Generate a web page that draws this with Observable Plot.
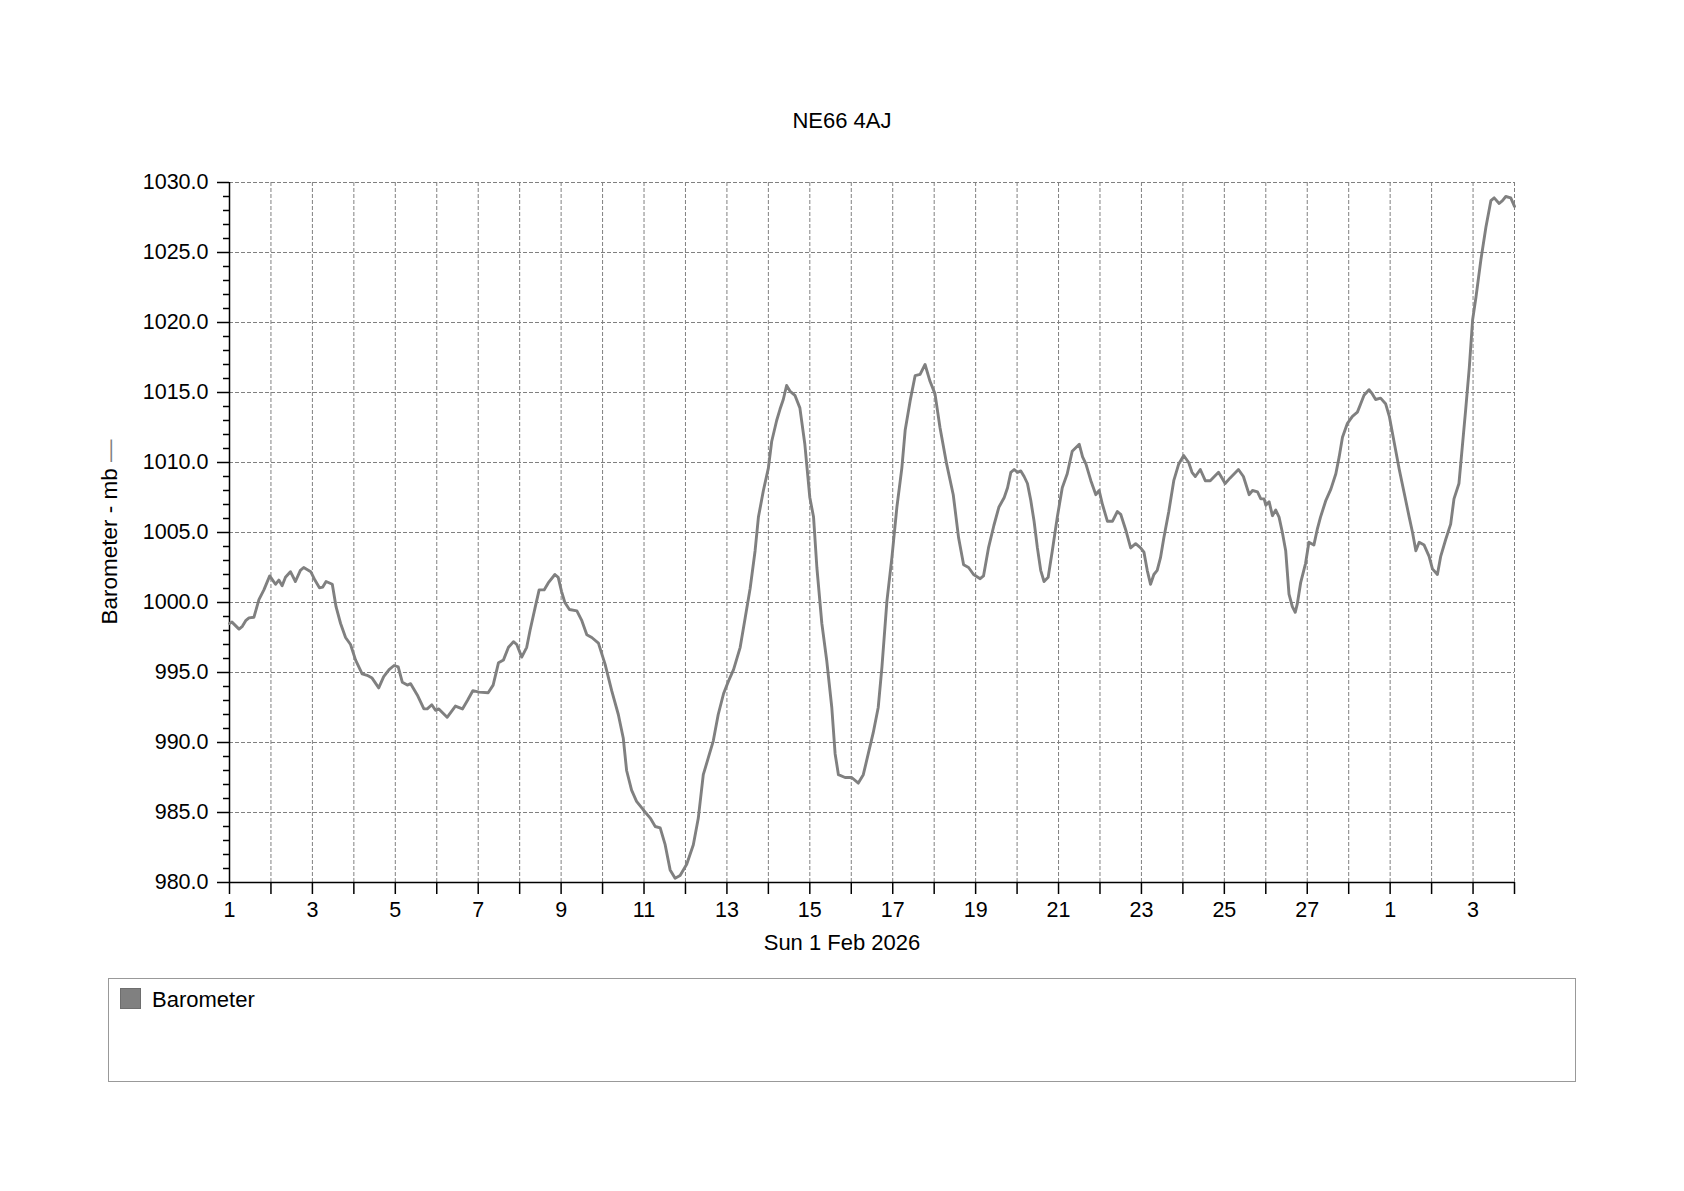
<!DOCTYPE html>
<html>
<head>
<meta charset="utf-8">
<script src="https://cdn.jsdelivr.net/npm/d3@7"></script>
<script src="https://cdn.jsdelivr.net/npm/@observablehq/plot@0.6"></script>
<style>
  html, body { margin: 0; padding: 0; background: #fff; }
  body { width: 1684px; height: 1191px; position: relative; overflow: hidden;
         font-family: "Liberation Sans", Arial, sans-serif; color: #000; }
  #title { position: absolute; left: 0; width: 1684px; top: 108px; line-height: 26px;
           text-align: center; font-size: 22px; }
  #xlabel { position: absolute; left: 0; width: 1684px; top: 930px; line-height: 26px;
            text-align: center; font-size: 22px; }
  #ylabel { position: absolute; left: 110px; top: 532px; font-size: 22.5px; white-space: nowrap;
            transform: translate(-50%, -50%) rotate(-90deg); }
  #ylabel .sym { color: #808080; }
  #chart { position: absolute; left: 0; top: 150px; }
  #legend { position: absolute; left: 108px; top: 978px; width: 1466px; height: 102px;
            border: 1px solid #999; box-sizing: content-box; }
  #legend .sw { position: absolute; left: 11px; top: 9px; width: 19px; height: 19px;
                background: #808080; border: 1px solid #6e6e6e; }
  #legend .lt { position: absolute; left: 43px; top: 8px; font-size: 22px; line-height: 26px; }
</style>
</head>
<body>
<div id="title">NE66 4AJ</div>
<div id="chart"></div>
<div id="xlabel">Sun 1 Feb 2026</div>
<div id="ylabel">Barometer - mb <span class="sym">—</span></div>
<div id="legend"><div class="sw"></div><div class="lt">Barometer</div></div>
<script>
// ---- Data (days since Sun 1 Feb 2026 00:00, pressure in mb) ----
const seriesName = "Barometer";
const startDate = "2026-02-01";
const endDate = "2026-03-04";
const yTicks = [980, 985, 990, 995, 1000, 1005, 1010, 1015, 1020, 1025, 1030];

const dayOffset = [
  0, 0.06, 0.23, 0.31, 0.39, 0.47, 0.59, 0.71, 0.83, 0.97, 1.11, 1.19, 1.27, 1.35, 1.47, 1.59, 1.71, 1.79, 1.96,
  2.06, 2.17, 2.25, 2.33, 2.48, 2.57, 2.68, 2.80, 2.92, 3.04, 3.20, 3.32, 3.44, 3.60, 3.72, 3.85, 3.97,
  4.07, 4.17, 4.29, 4.37, 4.53, 4.69, 4.77, 4.88, 4.97, 5.05, 5.25, 5.45, 5.62, 5.74, 5.87, 6.02,
  6.24, 6.36, 6.49, 6.61, 6.73, 6.85, 6.93, 7.05, 7.17, 7.25, 7.37, 7.47, 7.59, 7.69, 7.85, 7.93,
  8.01, 8.09, 8.20, 8.38, 8.50, 8.62, 8.74, 8.90, 9.06, 9.22, 9.38, 9.50, 9.58, 9.70, 9.82, 9.98,
  10.15, 10.27, 10.39, 10.51, 10.63, 10.75, 10.87, 11.03, 11.19, 11.31, 11.43, 11.55, 11.67, 11.79, 11.92,
  12.04, 12.16, 12.32, 12.44, 12.56, 12.68, 12.76, 12.88, 13.00, 13.08, 13.20, 13.28, 13.36, 13.44, 13.52,
  13.64, 13.76, 13.88, 14.00, 14.09, 14.17, 14.29, 14.41, 14.53, 14.61, 14.69, 14.85, 15.01, 15.17, 15.29,
  15.41, 15.53, 15.65, 15.74, 15.86, 15.98, 16.10, 16.22, 16.30, 16.42, 16.54, 16.66, 16.78, 16.90,
  17.02, 17.14, 17.30, 17.46, 17.59, 17.71, 17.83, 17.95, 18.11, 18.19, 18.31, 18.44, 18.56, 18.69, 18.77,
  18.85, 18.93, 19.01, 19.09, 19.17, 19.25, 19.33, 19.41, 19.49, 19.57, 19.65, 19.75, 19.85, 19.97,
  20.09, 20.21, 20.33, 20.50, 20.58, 20.66, 20.78, 20.90, 20.98, 21.06, 21.18, 21.30, 21.42, 21.50, 21.62,
  21.74, 21.86, 21.98, 22.06, 22.14, 22.22, 22.30, 22.38, 22.46, 22.54, 22.66, 22.78, 22.90, 23.02, 23.14,
  23.22, 23.30, 23.42, 23.54, 23.66, 23.86, 24.02, 24.14, 24.34, 24.46, 24.60, 24.68, 24.80, 24.88, 24.96,
  25.00, 25.08, 25.16, 25.24, 25.32, 25.40, 25.48, 25.56, 25.64, 25.71, 25.76, 25.84, 25.96, 26.04, 26.16,
  26.24, 26.32, 26.45, 26.57, 26.69, 26.77, 26.85, 26.97, 27.09, 27.21, 27.29, 27.37, 27.49, 27.57, 27.65,
  27.77, 27.89, 27.98, 28.10, 28.22, 28.34, 28.46, 28.54, 28.62, 28.70, 28.82, 28.94, 29.02, 29.14, 29.22,
  29.34, 29.46, 29.54, 29.66, 29.74, 29.82, 29.91, 29.99, 30.07, 30.19, 30.31, 30.43, 30.51, 30.63, 30.71,
  30.79, 30.91, 31.00
];

const pressureMb = [
  998.5, 998.6, 998.1, 998.3, 998.7, 998.9, 998.95, 1000.2, 1000.9, 1001.9, 1001.3, 1001.6, 1001.2, 1001.8, 1002.2, 1001.5, 1002.3, 1002.5, 1002.2,
  1001.6, 1001.05, 1001.1, 1001.5, 1001.3, 999.7, 998.5, 997.5, 997.0, 995.9, 994.9, 994.8, 994.6, 993.9, 994.7, 995.2, 995.5,
  995.4, 994.3, 994.1, 994.2, 993.4, 992.4, 992.4, 992.7, 992.3, 992.4, 991.8, 992.6, 992.4, 993.0, 993.7, 993.6,
  993.55, 994.1, 995.7, 995.9, 996.8, 997.2, 997.0, 996.1, 996.8, 998.0, 999.6, 1000.9, 1000.9, 1001.4, 1002.0, 1001.8,
  1000.8, 1000.0, 999.5, 999.4, 998.7, 997.7, 997.5, 997.1, 995.6, 993.7, 992.0, 990.3, 988.0, 986.6, 985.8, 985.2,
  984.6, 984.0, 983.9, 982.7, 980.9, 980.3, 980.5, 981.3, 982.7, 984.6, 987.7, 988.9, 990.1, 992.0, 993.5,
  994.4, 995.2, 996.8, 998.9, 1001.0, 1003.7, 1006.1, 1008.0, 1009.6, 1011.5, 1013.0, 1013.8, 1014.5, 1015.5, 1015.1,
  1014.8, 1013.9, 1011.3, 1007.5, 1006.1, 1002.5, 998.5, 995.8, 992.5, 989.2, 987.7, 987.5, 987.5, 987.1, 987.7,
  989.2, 990.7, 992.5, 995.4, 1000.1, 1003.2, 1006.8, 1009.6, 1012.3, 1014.4, 1016.2, 1016.3, 1017.0, 1015.8,
  1014.9, 1012.5, 1009.9, 1007.7, 1004.6, 1002.7, 1002.5, 1002.0, 1001.7, 1001.9, 1003.9, 1005.5, 1006.8, 1007.5, 1008.2,
  1009.3, 1009.5, 1009.3, 1009.4, 1009.0, 1008.5, 1007.3, 1005.8, 1003.9, 1002.3, 1001.5, 1001.8, 1003.7, 1006.1,
  1008.2, 1009.2, 1010.8, 1011.3, 1010.4, 1009.9, 1008.7, 1007.7, 1008.0, 1007.0, 1005.8, 1005.8, 1006.5, 1006.3, 1005.2,
  1003.9, 1004.2, 1003.9, 1003.6, 1002.3, 1001.3, 1002.0, 1002.3, 1003.2, 1004.6, 1006.5, 1008.7, 1009.9, 1010.5, 1010.0,
  1009.3, 1009.0, 1009.5, 1008.7, 1008.7, 1009.3, 1008.5, 1008.9, 1009.5, 1009.0, 1007.7, 1008.0, 1007.9, 1007.4, 1007.4,
  1006.95, 1007.2, 1006.2, 1006.6, 1006.1, 1005.0, 1003.7, 1000.6, 999.7, 999.3, 999.9, 1001.4, 1002.8, 1004.3, 1004.1,
  1005.2, 1006.1, 1007.3, 1008.1, 1009.2, 1010.4, 1011.8, 1012.8, 1013.3, 1013.6, 1014.2, 1014.8, 1015.2, 1014.9, 1014.5,
  1014.6, 1014.2, 1013.3, 1011.4, 1009.5, 1007.8, 1006.1, 1005.0, 1003.7, 1004.3, 1004.1, 1003.3, 1002.4, 1002.0, 1003.3,
  1004.5, 1005.6, 1007.4, 1008.5, 1011.1, 1013.7, 1016.8, 1020.2, 1021.8, 1024.5, 1026.8, 1028.7, 1028.9, 1028.5, 1028.7,
  1029.0, 1028.9, 1028.3
];

// ---- Build table ----
const t0 = new Date(startDate + "T00:00:00Z");
const t1 = new Date(endDate + "T00:00:00Z");
const data = dayOffset.map((d, i) => ({
  time: new Date(t0.getTime() + d * 86400000),
  value: pressureMb[i],
  series: seriesName
}));
const dayTicks = d3.utcDay.range(t0, d3.utcDay.offset(t1, 1));
const gridDays = dayTicks.slice(1);
const minorY = d3.range(980, 1031, 1).filter(v => v % 5 !== 0);
const gridY = yTicks.filter(v => v !== 980);

const chart = Plot.plot({
  width: 1684,
  height: 780,
  marginLeft: 229,
  marginRight: 170,
  marginTop: 32,
  marginBottom: 48,
  style: { fontFamily: "Liberation Sans, Arial, sans-serif", fontSize: "21px", color: "#000", background: "transparent", overflow: "visible" },
  x: { type: "utc", domain: [t0, t1] },
  y: { domain: [980, 1030] },
  marks: [
    Plot.gridX(gridDays, { stroke: "#808080", strokeOpacity: 1, strokeWidth: 1, strokeDasharray: "4,2" }),
    Plot.gridY(gridY, { stroke: "#808080", strokeOpacity: 1, strokeWidth: 1, strokeDasharray: "4,2" }),
    Plot.axisY(minorY, { tickSize: 6, tickFormat: () => "", strokeWidth: 1.5, label: null }),
    Plot.axisY(yTicks, { tickSize: 12, tickPadding: 9, tickFormat: d => d.toFixed(1), strokeWidth: 1.5, label: null, fontSize: 21.5 }),
    Plot.axisX(dayTicks, {
      tickSize: 12, tickPadding: 7, strokeWidth: 1.5, label: null, fontSize: 21.5,
      tickFormat: d => (d.getUTCDate() % 2 ? String(d.getUTCDate()) : "")
    }),
    Plot.ruleX([t0], { stroke: "#000", strokeWidth: 1.5 }),
    Plot.ruleY([980], { stroke: "#000", strokeWidth: 1.5 }),
    Plot.lineY(data, { x: "time", y: "value", stroke: "#808080", strokeWidth: 2.9, curve: "linear" })
  ]
});
document.getElementById("chart").appendChild(chart);
</script>
</body>
</html>
